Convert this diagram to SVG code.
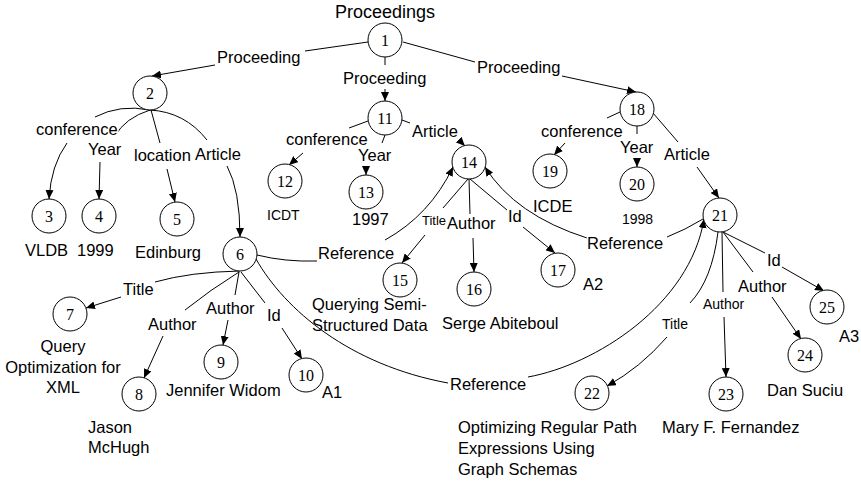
<svg xmlns="http://www.w3.org/2000/svg" width="861" height="481" viewBox="0 0 861 481">
<style>
.n circle{fill:#fff;stroke:#000;stroke-width:1}
.n text{font-family:"Liberation Serif","Times New Roman",serif;font-size:16px;text-anchor:middle;fill:#000}
.e path{fill:none;stroke:#000;stroke-width:1}
.e path.a{marker-end:url(#arr)}
text{font-family:"Liberation Sans",Arial,sans-serif;font-size:16.5px;fill:#000}
.lbl{stroke:#fff;stroke-width:3px;paint-order:stroke;stroke-linejoin:round}
.s14{font-size:14px}
.s13{font-size:13px}
</style>
<defs>
<marker id="arr" markerWidth="9" markerHeight="8" refX="9" refY="4" orient="auto" markerUnits="userSpaceOnUse"><path d="M0,0 L9,4 L0,8 z" fill="#000"/></marker>
</defs>
<rect width="861" height="481" fill="#fff"/>
<g id="connectors" class="e">
<path d="M368,42 L305,51"/><path class="a" d="M215,65 L152,76"/>
<path d="M385,57 L385,65"/><path class="a" d="M385,89 L385,101"/>
<path d="M403,42 L475,62"/><path class="a" d="M562,76 L636,92"/>
<path d="M150,110 Q120,104 95,117"/><path class="a" d="M67,143 Q51,165 49,199"/>
<path d="M150,110 Q125,118 115,136"/><path class="a" d="M100,162 L99,199"/>
<path d="M151,110 L160,143"/><path class="a" d="M167,169 L175,202"/>
<path d="M150,110 Q185,112 207,140"/><path class="a" d="M227,166 Q240,190 240,237"/>
<path d="M368,121 L349,128"/><path class="a" d="M303,153 L289,165"/>
<path d="M385,135 L382,143"/><path class="a" d="M366,167 L366,175"/>
<path d="M402,120 L410,123"/><path class="a" d="M459,140 L465,146"/>
<path d="M620,112 L607,118"/><path class="a" d="M565,143 L554,155"/>
<path d="M637,126 L637,134"/><path class="a" d="M637,160 L637,167"/>
<path d="M653,113 L678,142"/><path class="a" d="M697,167 L719,198"/>
<path d="M468,179 L443,208"/><path class="a" d="M425,235 L402,263"/>
<path d="M469,179 L470,214"/><path class="a" d="M473,238 L474,272"/>
<path d="M470,179 L507,210"/><path class="a" d="M523,227 L555,253"/>
<path d="M257,255 Q285,262 317,261"/><path class="a" d="M385,240 Q430,215 453,167"/>
<path d="M703,219 Q685,230 667,237"/><path class="a" d="M587,238 Q515,215 485,167"/>
<path d="M256,259 C285,310 350,365 448,383"/><path class="a" d="M528,377 C595,365 690,305 704,219"/>
<path d="M718,232 Q712,280 690,303"/><path class="a" d="M667,337 Q640,368 607,386"/>
<path d="M722,232 L723,292"/><path class="a" d="M724,317 L726,377"/>
<path d="M723,232 L753,272"/><path class="a" d="M772,297 L801,339"/>
<path d="M723,232 L765,253"/><path class="a" d="M782,267 L824,291"/>
<path d="M240,271 Q190,272 155,282"/><path class="a" d="M121,297 L86,308"/>
<path d="M239,272 Q210,290 185,310"/><path class="a" d="M163,336 L144,378"/>
<path d="M239,272 L235,295"/><path class="a" d="M228,320 L223,345"/>
<path d="M241,272 L265,303"/><path class="a" d="M282,328 L302,359"/>
</g>
<g id="edge-labels">
<text x="385" y="18" text-anchor="middle" style="font-size:18px">Proceedings</text>
<text class="lbl" x="217" y="63">Proceeding</text>
<text class="lbl" x="343" y="84">Proceeding</text>
<text class="lbl" x="477" y="73">Proceeding</text>
<text class="lbl" x="36" y="135">conference</text>
<text class="lbl" x="88" y="155">Year</text>
<text class="lbl" x="134" y="161">location</text>
<text class="lbl" x="195" y="160">Article</text>
<text class="lbl" x="286" y="145">conference</text>
<text class="lbl" x="358" y="161">Year</text>
<text class="lbl" x="412" y="137">Article</text>
<text class="lbl" x="541" y="137">conference</text>
<text class="lbl" x="620" y="153">Year</text>
<text class="lbl" x="664" y="160">Article</text>
<text class="lbl s13" x="422" y="225">Title</text>
<text class="lbl" x="447" y="229">Author</text>
<text class="lbl" x="508" y="222">Id</text>
<text class="lbl" x="318" y="259">Reference</text>
<text class="lbl" x="587" y="249">Reference</text>
<text class="lbl" x="123" y="295">Title</text>
<text class="lbl" x="148" y="330">Author</text>
<text class="lbl" x="206" y="314">Author</text>
<text class="lbl" x="267" y="321">Id</text>
<text class="lbl" x="450" y="390">Reference</text>
<text class="lbl s14" x="662" y="329">Title</text>
<text class="lbl s14" x="703" y="309">Author</text>
<text class="lbl" x="738" y="292">Author</text>
<text class="lbl" x="767" y="266">Id</text>
</g>
<g id="values">
<text x="25" y="256">VLDB</text>
<text x="77" y="256">1999</text>
<text x="135" y="258">Edinburg</text>
<text class="s14" x="267" y="220">ICDT</text>
<text x="352" y="225">1997</text>
<text x="533" y="212">ICDE</text>
<text class="s14" x="622" y="224">1998</text>
<text x="312" y="310">Querying Semi-</text>
<text x="312" y="331">Structured Data</text>
<text x="442" y="329">Serge Abiteboul</text>
<text x="583" y="290">A2</text>
<text x="63" y="352" text-anchor="middle">Query</text>
<text x="63" y="373" text-anchor="middle">Optimization for</text>
<text x="63" y="393" text-anchor="middle">XML</text>
<text x="88" y="433">Jason</text>
<text x="88" y="453">McHugh</text>
<text x="166" y="396">Jennifer Widom</text>
<text x="322" y="398">A1</text>
<text x="458" y="433">Optimizing Regular Path</text>
<text x="458" y="454">Expressions Using</text>
<text x="458" y="475">Graph Schemas</text>
<text x="662" y="433">Mary F. Fernandez</text>
<text x="767" y="396">Dan Suciu</text>
<text x="839" y="342">A3</text>
</g>
<g id="n1" class="n"><circle cx="385" cy="40" r="17"/><text x="385" y="45.5">1</text></g>
<g id="n2" class="n"><circle cx="150" cy="93" r="17"/><text x="150" y="98.5">2</text></g>
<g id="n3" class="n"><circle cx="49" cy="216" r="17"/><text x="49" y="221.5">3</text></g>
<g id="n4" class="n"><circle cx="99" cy="216" r="17"/><text x="99" y="221.5">4</text></g>
<g id="n5" class="n"><circle cx="177" cy="219" r="17"/><text x="177" y="224.5">5</text></g>
<g id="n6" class="n"><circle cx="240" cy="254" r="17"/><text x="240" y="259.5">6</text></g>
<g id="n7" class="n"><circle cx="70" cy="314" r="17"/><text x="70" y="319.5">7</text></g>
<g id="n8" class="n"><circle cx="139" cy="394" r="17"/><text x="139" y="399.5">8</text></g>
<g id="n9" class="n"><circle cx="221" cy="362" r="17"/><text x="221" y="367.5">9</text></g>
<g id="n10" class="n"><circle cx="306" cy="375" r="17"/><text x="306" y="380.5">10</text></g>
<g id="n11" class="n"><circle cx="385" cy="118" r="17"/><text x="385" y="123.5">11</text></g>
<g id="n12" class="n"><circle cx="285" cy="181" r="17"/><text x="285" y="186.5">12</text></g>
<g id="n13" class="n"><circle cx="366" cy="192" r="17"/><text x="366" y="197.5">13</text></g>
<g id="n14" class="n"><circle cx="469" cy="162" r="17"/><text x="469" y="167.5">14</text></g>
<g id="n15" class="n"><circle cx="400" cy="280" r="17"/><text x="400" y="285.5">15</text></g>
<g id="n16" class="n"><circle cx="474" cy="289" r="17"/><text x="474" y="294.5">16</text></g>
<g id="n17" class="n"><circle cx="558" cy="270" r="17"/><text x="558" y="275.5">17</text></g>
<g id="n18" class="n"><circle cx="637" cy="109" r="17"/><text x="637" y="114.5">18</text></g>
<g id="n19" class="n"><circle cx="550" cy="171" r="17"/><text x="550" y="176.5">19</text></g>
<g id="n20" class="n"><circle cx="637" cy="184" r="17"/><text x="637" y="189.5">20</text></g>
<g id="n21" class="n"><circle cx="720" cy="215" r="17"/><text x="720" y="220.5">21</text></g>
<g id="n22" class="n"><circle cx="592" cy="393" r="17"/><text x="592" y="398.5">22</text></g>
<g id="n23" class="n"><circle cx="726" cy="394" r="17"/><text x="726" y="399.5">23</text></g>
<g id="n24" class="n"><circle cx="805" cy="355" r="17"/><text x="805" y="360.5">24</text></g>
<g id="n25" class="n"><circle cx="827" cy="307" r="17"/><text x="827" y="312.5">25</text></g>
</svg>
